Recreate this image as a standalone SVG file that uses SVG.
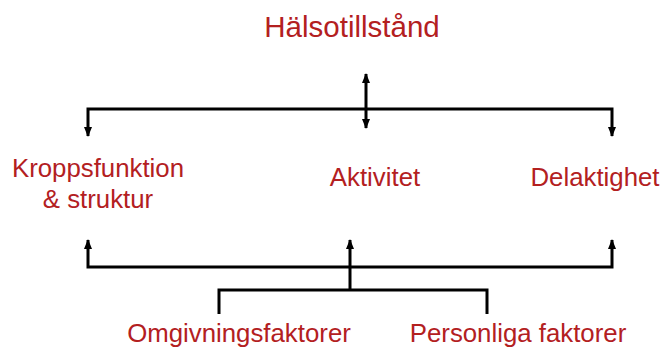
<svg xmlns="http://www.w3.org/2000/svg" width="662" height="347" viewBox="0 0 662 347">
  <defs>
    <style>
      .label { font-family: "Liberation Sans", Arial, sans-serif; fill: #b3201f; text-anchor: middle; }
      .title { font-size: 29.5px; }
      .item { font-size: 25.8px; }
      .link { fill: none; stroke: #000; stroke-width: 3; stroke-linejoin: miter; stroke-linecap: butt; }
    </style>
    <marker id="arrow" markerUnits="userSpaceOnUse" markerWidth="10" markerHeight="10" viewBox="0 0 10 10" refX="9" refY="5" orient="auto-start-reverse">
      <path d="M0,1 L10,5 L0,9 Z" fill="#000"/>
    </marker>
  </defs>

  <rect width="662" height="347" fill="#fff"/>

  <!-- connectors -->
  <g id="connectors">
    <!-- health condition, two-way link to the centre of the upper bar -->
    <path class="link" d="M366,74 L366,128" marker-start="url(#arrow)" marker-end="url(#arrow)"/>
    <!-- upper distribution bar -->
    <path class="link" d="M88,136 L88,109 L612,109 L612,136" marker-start="url(#arrow)" marker-end="url(#arrow)"/>
    <!-- lower collecting bar -->
    <path class="link" d="M88,240 L88,267 L612,267 L612,240" marker-start="url(#arrow)" marker-end="url(#arrow)"/>
    <path class="link" d="M350,290 L350,240" marker-end="url(#arrow)"/>
    <!-- contextual factors -->
    <path class="link" d="M219,314 L219,290 L487,290 L487,314"/>
  </g>

  <g id="halsotillstand">
    <text class="label title" x="352" y="37">Hälsotillstånd</text>
  </g>
  <g id="kroppsfunktion">
    <text class="label item" x="98" y="177">Kroppsfunktion</text>
    <text class="label item" x="98" y="208">&amp; struktur</text>
  </g>
  <g id="aktivitet">
    <text class="label item" x="375" y="186">Aktivitet</text>
  </g>
  <g id="delaktighet">
    <text class="label item" x="595" y="186">Delaktighet</text>
  </g>
  <g id="omgivningsfaktorer">
    <text class="label item" x="239" y="342">Omgivningsfaktorer</text>
  </g>
  <g id="personliga-faktorer">
    <text class="label item" x="518" y="342">Personliga faktorer</text>
  </g>
</svg>
